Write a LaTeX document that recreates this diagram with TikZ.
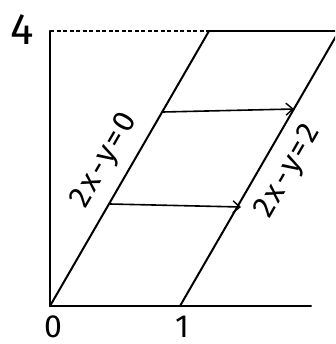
\documentclass[tikz,border=0pt]{standalone}
\usepackage{fontspec}
\setmainfont{Fira Sans}
\usetikzlibrary{arrows.meta}
\newcommand{\hsp}{\kern2.5pt}
\tikzset{
  axisline/.style={line width=2pt, line cap=round},
  boundline/.style={line width=2pt, line cap=round},
  flowarrow/.style={line width=1.6pt, -{Straight Barb[length=7pt,width=12pt,line width=1.4pt]}},
  handlabel/.style={inner sep=0pt, font=\fontsize{31}{31}\selectfont},
  ticklabel/.style={inner sep=0pt, font=\fontsize{32}{32}\selectfont}
}
\begin{document}
\begin{tikzpicture}[x=1pt,y=-1pt]
\useasboundingbox (0,0) rectangle (335,344);
\clip (0,0) rectangle (335,344);
\coordinate (O) at (50,306);
\coordinate (Y4) at (50,31);
\coordinate (X1) at (180,306);
\coordinate (XE) at (311,306);
\coordinate (T0) at (209,31);
\coordinate (TE) at (336,31);
\coordinate (T2) at (339,31);
\coordinate (A1s) at (163,112);
\coordinate (A1e) at (294,109);
\coordinate (A2s) at (110,204);
\coordinate (A2e) at (241,207);
% axes
\draw[axisline] (Y4) -- (O) -- (XE);
\draw[line width=1.3pt, dash pattern=on 4pt off 2.5pt] (Y4) -- (T0);
\draw[boundline] (T0) -- (TE);
% lines
\draw[boundline] (O) -- (T0);
\draw[boundline] (X1) -- (T2);
% arrows
\draw[flowarrow] (A1s) -- (A1e);
\draw[flowarrow] (A2s) -- (A2e);
% labels
\node[handlabel, rotate=60] (L0) at (105,161) {2\hsp x\hsp-\hsp y\hsp=\hsp 0};
\node[handlabel, rotate=60] (L2) at (289,172) {2\hsp x\hsp-\hsp y\hsp=\hsp 2};
\node[ticklabel, font=\fontsize{44}{44}\selectfont] (N4) at (22,30) {4};
\node[ticklabel] (N0) at (53,327) {0};
\node[ticklabel] (N1) at (182,327) {1};
\end{tikzpicture}
\end{document}
